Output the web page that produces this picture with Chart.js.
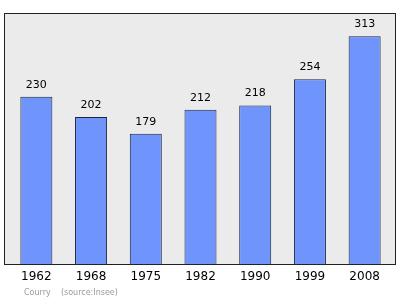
<!DOCTYPE html>
<html>
<head>
<meta charset="utf-8">
<script src="https://cdn.jsdelivr.net/npm/chart.js@4"></script>
<style>
  html, body { margin: 0; padding: 0; background: #fff; }
  #wrap { width: 400px; height: 299px; position: relative; }
</style>
</head>
<body>
<div id="wrap"><canvas id="myChart"></canvas></div>
<script>
// data
const years = ['1962', '1968', '1975', '1982', '1990', '1999', '2008'];
const population = [230, 202, 179, 212, 218, 254, 313];
const footerText = 'Courry    (source:Insee)';

// frame, value labels, year labels and footer
const decorations = {
  id: 'decorations',
  beforeDraw(chart) {
    const c = chart.ctx;
    c.save();
    c.fillStyle = '#ebebeb';
    c.fillRect(4, 13, 392, 251);
    c.strokeStyle = '#222';
    c.lineWidth = 1;
    c.strokeRect(4.5, 13.5, 391, 251);
    c.restore();
  },
  afterDatasetsDraw(chart) {
    const c = chart.ctx;
    const meta = chart.getDatasetMeta(0);
    c.save();
    c.fillStyle = '#000';
    c.textAlign = 'center';
    c.textBaseline = 'middle';
    c.font = '11px "DejaVu Sans"';
    meta.data.forEach((bar, i) => {
      c.fillText(String(population[i]), bar.x, bar.y - 12);
    });
    c.font = '12px "DejaVu Sans"';
    const xs = chart.scales.x;
    years.forEach((y, i) => {
      c.fillText(y, xs.getPixelForValue(i), 277);
    });
    c.textAlign = 'left';
    c.fillStyle = '#999';
    c.font = '8px "DejaVu Sans"';
    c.fillText(footerText, 24, 293);
    c.restore();
  }
};

const ctx = document.getElementById('myChart');
new Chart(ctx, {
  type: 'bar',
  data: {
    labels: years,
    datasets: [{
      data: population,
      backgroundColor: '#6f94fb',
      borderColor: '#1c2340',
      borderWidth: 1,
      borderSkipped: 'bottom',
      barPercentage: 0.585,
      categoryPercentage: 1
    }]
  },
  options: {
    responsive: true,
    maintainAspectRatio: false,
    animation: false,
    layout: { padding: { left: 9, right: 8, top: 13, bottom: 35 } },
    plugins: {
      legend: { display: false },
      tooltip: { enabled: false }
    },
    scales: {
      x: { display: false },
      y: { display: false, min: 0, max: 345 }
    }
  },
  plugins: [decorations]
});
</script>
</body>
</html>
